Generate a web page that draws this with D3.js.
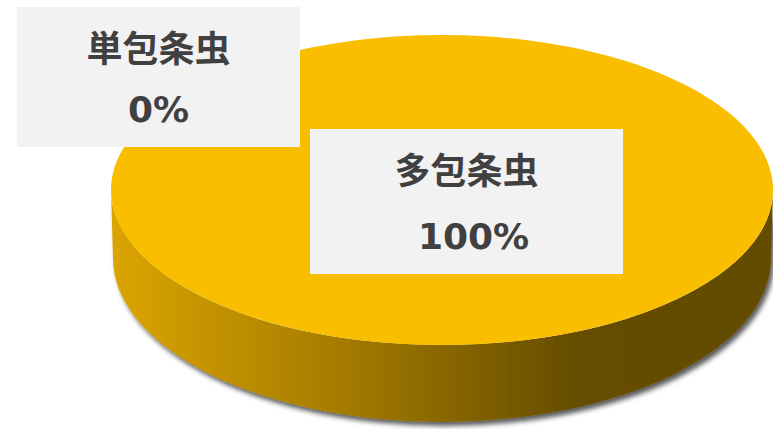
<!DOCTYPE html>
<html>
<head>
<meta charset="utf-8">
<script src="https://cdn.jsdelivr.net/npm/d3@7"></script>
<style>
  body { margin: 0; background: #fff; }
</style>
</head>
<body>
<div id="chart"></div>
<script>
var categories = ["単包条虫", "多包条虫"];
var values = [0, 100];
var pctLabels = ["0%", "100%"];

var width = 773;
var height = 429;

// ellipse geometry of the tilted pie (top face and the base rim)
var cx = 442;
var topE = {cy: 190, rx: 331, ry: 155};
var baseE = {cy: 258, rx: 329, ry: 164};

var colour = d3.scaleOrdinal()
    .domain(categories)
    .range(["#4472c4", "#f9be00"]);

// label boxes were dragged around in the original, so they get fixed spots
var boxes = [
    {x: 17, y: 7, w: 283, h: 140, dx: 0},
    {x: 310, y: 129, w: 313, h: 145, dx: 7}
];

var data = categories.map(function(c, i) {
    return {name: c, value: values[i], label: pctLabels[i]};
});

var pie = d3.pie()
    .sort(null)
    .value(function(d) { return d.value; });

var arcs = pie(data);

function pt(e, a) {
    return [cx + e.rx * Math.sin(a), e.cy - e.ry * Math.cos(a)];
}

// elliptical arc from a0 to a1 (clockwise on screen), split so no piece is >= PI
function arcTo(e, a0, a1) {
    var s = "";
    var steps = Math.ceil((a1 - a0) / (Math.PI * 0.9));
    for (var k = 1; k <= steps; k++) {
        var a = a0 + (a1 - a0) * k / steps;
        var p = pt(e, a);
        s += "A" + e.rx + "," + e.ry + " 0 0 1 " + p[0] + "," + p[1];
    }
    return s;
}

function arcBack(e, a1, a0) {
    var s = "";
    var steps = Math.ceil((a1 - a0) / (Math.PI * 0.9));
    for (var k = 1; k <= steps; k++) {
        var a = a1 - (a1 - a0) * k / steps;
        var p = pt(e, a);
        s += "A" + e.rx + "," + e.ry + " 0 0 0 " + p[0] + "," + p[1];
    }
    return s;
}

function topPath(d) {
    var span = d.endAngle - d.startAngle;
    var p0 = pt(topE, d.startAngle);
    if (span >= 2 * Math.PI - 1e-6) {
        return "M" + p0[0] + "," + p0[1] + arcTo(topE, d.startAngle, d.endAngle) + "Z";
    }
    return "M" + cx + "," + topE.cy + "L" + p0[0] + "," + p0[1] +
        arcTo(topE, d.startAngle, d.endAngle) + "Z";
}

function wallPath(d) {
    var s = Math.max(d.startAngle, Math.PI / 2);
    var e = Math.min(d.endAngle, Math.PI * 1.5);
    if (e <= s) return null;
    var p0 = pt(topE, s);
    var b1 = pt(baseE, e);
    return "M" + p0[0] + "," + p0[1] + arcTo(topE, s, e) +
        "L" + b1[0] + "," + b1[1] + arcBack(baseE, e, s) + "Z";
}

var svg = d3.select("#chart")
    .append("svg")
    .attr("width", width)
    .attr("height", height);

var defs = svg.append("defs");

var grad = defs.append("linearGradient")
    .attr("id", "side")
    .attr("gradientUnits", "userSpaceOnUse")
    .attr("x1", 110).attr("y1", 0)
    .attr("x2", 773).attr("y2", 0);
grad.append("stop").attr("offset", "0%").attr("stop-color", "#dba500");
grad.append("stop").attr("offset", "35%").attr("stop-color", "#a47b00");
grad.append("stop").attr("offset", "70%").attr("stop-color", "#664d00");
grad.append("stop").attr("offset", "100%").attr("stop-color", "#634b00");

var shadow = defs.append("filter")
    .attr("id", "shadow")
    .attr("x", "-10%").attr("y", "-10%")
    .attr("width", "120%").attr("height", "130%");
shadow.append("feDropShadow")
    .attr("dx", 3)
    .attr("dy", 4)
    .attr("stdDeviation", 2.5)
    .attr("flood-color", "#000")
    .attr("flood-opacity", 0.65);

var pieG = svg.append("g");

pieG.selectAll("path.wall")
    .data(arcs.filter(function(d) { return wallPath(d) !== null; }))
    .enter().append("path")
    .attr("class", "wall")
    .attr("d", wallPath)
    .attr("fill", "url(#side)")
    .attr("filter", "url(#shadow)");

pieG.selectAll("path.top")
    .data(arcs.filter(function(d) { return d.endAngle > d.startAngle; }))
    .enter().append("path")
    .attr("class", "top")
    .attr("d", topPath)
    .attr("fill", function(d) { return colour(d.data.name); });

var lab = svg.selectAll("g.label")
    .data(arcs)
    .enter().append("g")
    .attr("class", "label")
    .attr("transform", function(d, i) {
        return "translate(" + boxes[i].x + "," + boxes[i].y + ")";
    });

lab.append("rect")
    .attr("width", function(d, i) { return boxes[i].w; })
    .attr("height", function(d, i) { return boxes[i].h; })
    .attr("fill", "#f2f2f2");

lab.append("text")
    .attr("x", function(d, i) { return boxes[i].w / 2; })
    .attr("y", 39)
    .attr("dominant-baseline", "central")
    .attr("text-anchor", "middle")
    .style("font-family", "'Noto Sans CJK JP', 'Noto Sans CJK SC', sans-serif")
    .style("font-weight", "bold")
    .style("font-size", "36px")
    .attr("fill", "#404040")
    .text(function(d) { return d.data.name; });

lab.append("text")
    .attr("x", function(d, i) { return boxes[i].w / 2 + boxes[i].dx; })
    .attr("y", function(d, i) { return boxes[i].h - 25; })
    .attr("text-anchor", "middle")
    .style("font-family", "'DejaVu Sans', Verdana, sans-serif")
    .style("font-weight", "bold")
    .style("font-size", "36px")
    .attr("fill", "#404040")
    .text(function(d) { return d.data.label; });
</script>
</body>
</html>
